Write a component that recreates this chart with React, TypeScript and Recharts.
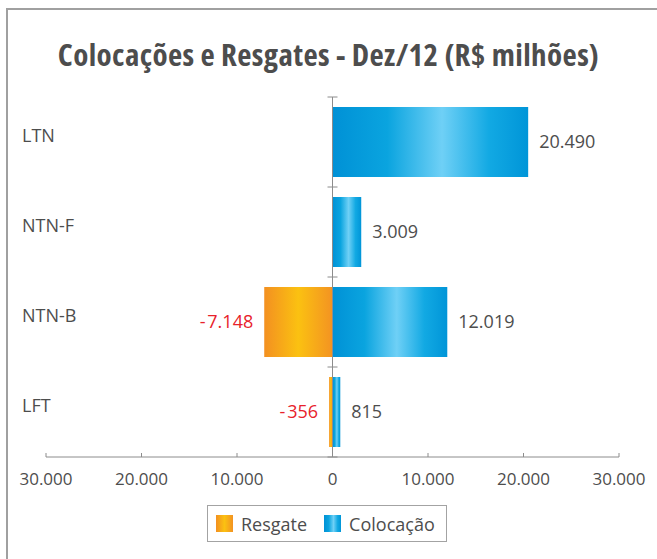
import { BarChart, Bar, XAxis, YAxis, ReferenceLine, LabelList, Legend } from "recharts";

// valores do gráfico (R$ milhões)
const categories = ["LTN", "NTN-F", "NTN-B", "LFT"];
const resgate = [0, 0, -7148, -356];
const colocacao = [20490, 3009, 12019, 815];
const xTicks = [-30000, -20000, -10000, 0, 10000, 20000, 30000];
const seriesOrder = ["resgate", "colocacao"];
const seriesNames: Record<string, string> = { resgate: "Resgate", colocacao: "Colocação" };

const data = categories.map((name, i) => ({
  name,
  resgate: resgate[i],
  colocacao: colocacao[i],
}));

const W = 657;
const H = 559;
const Y_AXIS_W = 46;
const MARGIN = { top: 97, right: 38, bottom: 62, left: 0 };
const X_AXIS_H = 40;
const PLOT_W = W - MARGIN.left - Y_AXIS_W - MARGIN.right;
const CENTER_X = MARGIN.left + Y_AXIS_W + PLOT_W / 2;
const BAND = (H - MARGIN.top - MARGIN.bottom - X_AXIS_H) / categories.length;
const LABEL_X = 22;

const FONT = "'Open Sans', sans-serif";
const TEXT = "#4d4d4d";
const AXIS = "#8c8c8c";
const RED = "#e8222b";

// 12019 -> "12.019"
const fmt = (v: number) =>
  Math.abs(Math.round(v))
    .toString()
    .replace(/\B(?=(\d{3})+(?!\d))/g, ".");

const fills: Record<string, string> = {
  resgate: "url(#gradResgate)",
  colocacao: "url(#gradColocacao)",
};

const CategoryTick = (props: any) => {
  const { y, payload, index } = props;
  const top = y - BAND / 2;
  return (
    <g>
      <text
        x={LABEL_X}
        y={y - 6}
        dy="0.35em"
        textAnchor="start"
        fontSize={18}
        fill={TEXT}
        fontFamily={FONT}
      >
        {payload.value}
      </text>
      <line x1={CENTER_X - 5} x2={CENTER_X + 5} y1={top} y2={top} stroke={AXIS} />
      {index === categories.length - 1 && (
        <line
          x1={CENTER_X - 5}
          x2={CENTER_X + 5}
          y1={y + BAND / 2}
          y2={y + BAND / 2}
          stroke={AXIS}
        />
      )}
    </g>
  );
};

const LegendBox = (props: any) => {
  const items = [...(props.payload || [])].sort(
    (a: any, b: any) => seriesOrder.indexOf(a.dataKey) - seriesOrder.indexOf(b.dataKey)
  );
  return (
    <div
      style={{
        display: "inline-flex",
        alignItems: "center",
        height: 35,
        padding: "0 11px 0 8px",
        border: "1.5px solid #a3a3a3",
        fontFamily: FONT,
        fontSize: 18,
        color: TEXT,
        background: "#fff",
      }}
    >
      {items.map((it: any, i: number) => (
        <span
          key={it.dataKey}
          style={{ display: "inline-flex", alignItems: "center", marginLeft: i ? 17 : 0 }}
        >
          <svg width={17} height={17} style={{ marginRight: 8 }}>
            <rect width={17} height={17} fill={fills[it.dataKey]} />
          </svg>
          {it.value}
        </span>
      ))}
    </div>
  );
};

const App = () => {
  return (
    <div
      style={{
        position: "fixed",
        left: 0,
        top: 0,
        width: W,
        height: H,
        overflow: "hidden",
        background: "#fff",
      }}
    >
      <div
        style={{
          position: "absolute",
          left: 6,
          top: 8,
          width: 800,
          height: 800,
          borderLeft: "2px solid #a0a0a0",
          borderTop: "2px solid #a0a0a0",
        }}
      />
      <div
        style={{
          position: "absolute",
          left: 0,
          top: 34,
          width: W,
          textAlign: "center",
          fontFamily: FONT,
          fontWeight: 700,
          fontSize: 31,
          fontStretch: "75%",
          letterSpacing: 0.4,
          lineHeight: "40px",
          color: TEXT,
          whiteSpace: "nowrap",
        }}
      >
        Colocações e Resgates - Dez/12 (R$ milhões)
      </div>
      <div style={{ position: "absolute", left: 0, top: 0 }}>
        <BarChart
          width={W}
          height={H}
          data={data}
          layout="vertical"
          stackOffset="sign"
          margin={MARGIN}
          barSize={70}
        >
          <defs>
            <linearGradient id="gradColocacao" x1="0" y1="0" x2="1" y2="0">
              <stop offset="0%" stopColor="#0091d6" />
              <stop offset="28%" stopColor="#0aa4df" />
              <stop offset="56%" stopColor="#6fd0f6" />
              <stop offset="80%" stopColor="#12a9e3" />
              <stop offset="100%" stopColor="#0095d8" />
            </linearGradient>
            <linearGradient id="gradResgate" x1="0" y1="0" x2="1" y2="0">
              <stop offset="0%" stopColor="#f39021" />
              <stop offset="50%" stopColor="#fbc111" />
              <stop offset="100%" stopColor="#f39322" />
            </linearGradient>
          </defs>
          <XAxis
            type="number"
            domain={[-30000, 30000]}
            ticks={xTicks}
            tickFormatter={fmt}
            height={X_AXIS_H}
            stroke={AXIS}
            tickSize={-4}
            tickMargin={20}
            tick={{ fontSize: 17, fill: TEXT, fontFamily: FONT }}
          />
          <YAxis
            type="category"
            dataKey="name"
            width={Y_AXIS_W}
            axisLine={false}
            tickLine={false}
            interval={0}
            tick={(p: any) => <CategoryTick {...p} />}
          />
          <Legend
            layout="horizontal"
            verticalAlign="middle"
            align="center"
            content={<LegendBox />}
            wrapperStyle={{ left: 207, top: 505, width: "auto" }}
          />
          <Bar
            dataKey="resgate"
            name={seriesNames.resgate}
            stackId="a"
            fill={fills.resgate}
            isAnimationActive={false}
          >
            <LabelList
              dataKey="resgate"
              position="right"
              offset={11}
              fill={RED}
              fontSize={18}
              fontFamily={FONT}
              formatter={(v: any) => (v ? "-\u200a" + fmt(v) : "")}
            />
          </Bar>
          <Bar
            dataKey="colocacao"
            name={seriesNames.colocacao}
            stackId="a"
            fill={fills.colocacao}
            isAnimationActive={false}
          >
            <LabelList
              dataKey="colocacao"
              position="right"
              offset={11}
              fill={TEXT}
              fontSize={18}
              fontFamily={FONT}
              formatter={(v: any) => fmt(v)}
            />
          </Bar>
          <ReferenceLine x={0} stroke={AXIS} />
        </BarChart>
      </div>
    </div>
  );
};

export default App;
